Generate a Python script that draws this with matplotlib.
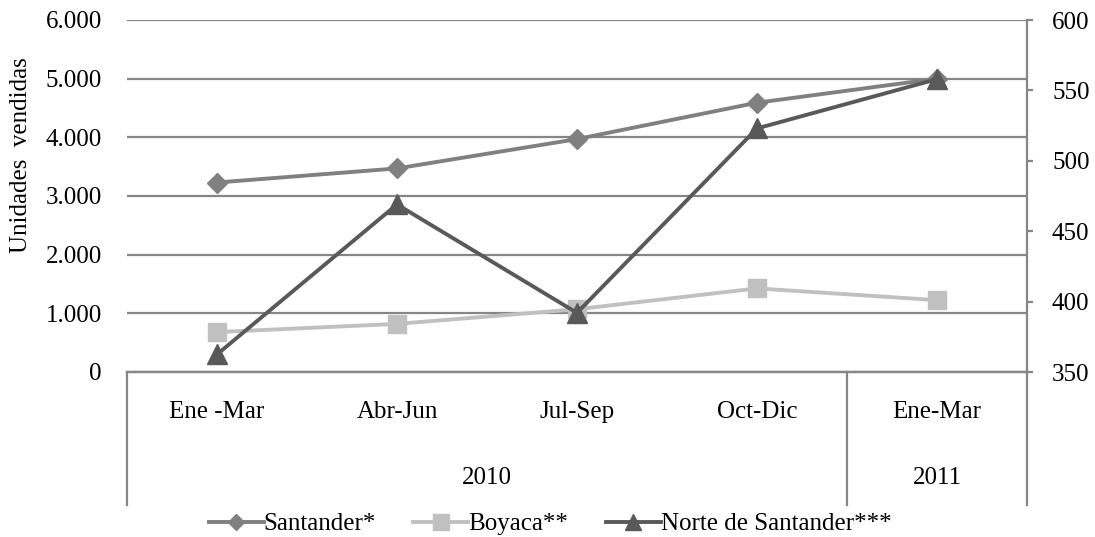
import matplotlib.pyplot as plt
from matplotlib.lines import Line2D
from matplotlib.ticker import FuncFormatter
import matplotlib.transforms as mtransforms

plt.rcParams['font.family'] = ['Liberation Serif', 'DejaVu Serif']
plt.rcParams['font.size'] = 18

# Data
quarters = ['Ene -Mar', 'Abr-Jun', 'Jul-Sep', 'Oct-Dic', 'Ene-Mar']
years = ['2010', '2011']
year_span = [4, 1]  # number of quarters under each year
santander = [3230, 3470, 3970, 4590, 5000]
boyaca = [680, 820, 1070, 1425, 1225]
norte = [362.5, 469, 392, 523, 558]  # right axis

grid_col = '#868686'
fs = 18
fig = plt.figure(figsize=(10.95, 5.37), dpi=100)
W, H = 1095, 537
x0, x1, ytop, ybot = 127, 1027, 20, 372
ax = fig.add_axes([x0 / W, (H - ybot) / H, (x1 - x0) / W, (ybot - ytop) / H])
ax2 = ax.twinx()

x = [i + 0.5 for i in range(len(quarters))]

ax.plot(x, boyaca, color='#c0c0c0', lw=2.8, marker='s', ms=13, label='Boyaca**', zorder=3)
ax.plot(x, santander, color='#808080', lw=2.8, marker='D', ms=10, label='Santander*', zorder=4)
ax2.plot(x, norte, color='#595959', lw=2.8, marker='^', ms=14, label='Norte de Santander***', zorder=5)

ax.set_xlim(0, len(quarters))
ax.set_ylim(0, 6000)
ax.set_yticks(range(0, 6001, 1000))
ax.yaxis.set_major_formatter(FuncFormatter(lambda v, p: f'{int(v):,}'.replace(',', '.')))
ax.grid(axis='y', color=grid_col, lw=1.6)
ax.set_axisbelow(True)
ax.tick_params(axis='y', length=0, pad=18, labelsize=fs)
ax.set_ylabel('Unidades  vendidas', fontsize=fs)
ax.yaxis.set_label_coords(-0.105, 0.616)

ax2.set_ylim(350, 600)
ax2.set_yticks(range(350, 601, 50))
ax2.tick_params(axis='y', length=4, width=1.6, color=grid_col, pad=14, labelsize=fs)

for a in (ax, ax2):
    for s in ('top', 'left', 'right'):
        a.spines[s].set_visible(False)
    a.spines['bottom'].set_color(grid_col)
    a.spines['bottom'].set_linewidth(1.6)

# Category axis (two levels)
ax.set_xticks(x)
ax.set_xticklabels(quarters)
ax.tick_params(axis='x', length=0, pad=21, labelsize=fs)

trans = mtransforms.blended_transform_factory(ax.transData, ax.transAxes)
low = -(505 - ybot) / (ybot - ytop)
ax.add_line(Line2D([1, 1], [low, 1], transform=ax.transAxes, color=grid_col, lw=1.6, clip_on=False))
ax.add_line(Line2D([0, 0], [low, 0], transform=ax.transAxes, color=grid_col, lw=1.6, clip_on=False))
start = 0
for yr, n in zip(years, year_span):
    ax.text(start + n / 2, -(478 - ybot) / (ybot - ytop), yr, transform=trans,
            ha='center', va='center', fontsize=fs)
    start += n
    if start < len(quarters):
        ax.add_line(Line2D([start, start], [low, 0], transform=trans, color=grid_col, lw=1.6, clip_on=False))

h1, l1 = ax.get_legend_handles_labels()
h2, l2 = ax2.get_legend_handles_labels()
handles = [h1[1], h1[0], h2[0]]
labels = [l1[1], l1[0], l2[0]]
fig.legend(handles, labels, loc='center', bbox_to_anchor=(550 / W, 1 - 524 / H), ncol=3,
           frameon=False, fontsize=fs, handlelength=2.2, handletextpad=0.0, columnspacing=1.5,
           borderaxespad=0, borderpad=0, markerscale=0.85)

fig.savefig('out.png', dpi=100)
